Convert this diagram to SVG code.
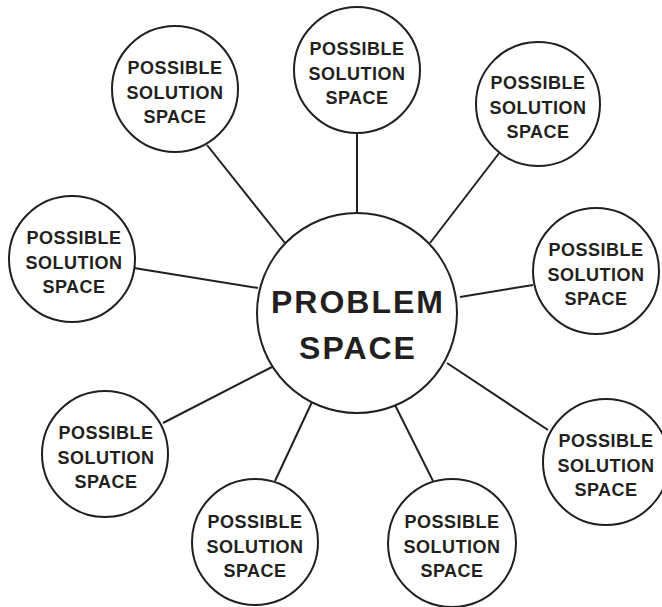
<svg xmlns="http://www.w3.org/2000/svg" width="662" height="607" viewBox="0 0 662 607">
<style>
.c{fill:#fff;stroke:#231f20;stroke-width:2}
.l{stroke:#231f20;stroke-width:2;fill:none}
.t{font-family:"Liberation Sans",Arial,sans-serif;font-weight:bold;font-size:18px;fill:#231f20;text-anchor:middle;letter-spacing:0.5px}
.m{font-family:"Liberation Sans",Arial,sans-serif;font-weight:bold;font-size:32px;fill:#231f20;text-anchor:middle;letter-spacing:2px}
</style>
<rect width="662" height="607" fill="#fff"/>
<g id="connectors">
<line class="l" x1="207" y1="145" x2="285" y2="243"/>
<line class="l" x1="357" y1="133" x2="357" y2="215"/>
<line class="l" x1="500" y1="152" x2="430" y2="243"/>
<line class="l" x1="134" y1="268" x2="258" y2="288"/>
<line class="l" x1="533" y1="285" x2="460" y2="297"/>
<line class="l" x1="163" y1="423" x2="272" y2="367"/>
<line class="l" x1="275" y1="481" x2="312" y2="402"/>
<line class="l" x1="433" y1="481" x2="395" y2="405"/>
<line class="l" x1="548" y1="430" x2="447" y2="363"/>
</g>
<g id="problem">
<circle class="c" cx="357" cy="313" r="100"/>
<text class="m" x="358" y="313">PROBLEM</text>
<text class="m" x="358" y="359">SPACE</text>
</g>
<g id="s1">
<circle class="c" cx="175" cy="89" r="63"/>
<text class="t" x="175" y="74">POSSIBLE</text>
<text class="t" x="175" y="99">SOLUTION</text>
<text class="t" x="175" y="123">SPACE</text>
</g>
<g id="s2">
<circle class="c" cx="357" cy="70" r="63"/>
<text class="t" x="357" y="55">POSSIBLE</text>
<text class="t" x="357" y="80">SOLUTION</text>
<text class="t" x="357" y="104">SPACE</text>
</g>
<g id="s3">
<circle class="c" cx="538" cy="104" r="62"/>
<text class="t" x="538" y="89">POSSIBLE</text>
<text class="t" x="538" y="114">SOLUTION</text>
<text class="t" x="538" y="138">SPACE</text>
</g>
<g id="s4">
<circle class="c" cx="72" cy="259" r="63"/>
<text class="t" x="74" y="244">POSSIBLE</text>
<text class="t" x="74" y="269">SOLUTION</text>
<text class="t" x="74" y="293">SPACE</text>
</g>
<g id="s5">
<circle class="c" cx="596" cy="271" r="63"/>
<text class="t" x="596" y="256">POSSIBLE</text>
<text class="t" x="596" y="281">SOLUTION</text>
<text class="t" x="596" y="305">SPACE</text>
</g>
<g id="s6">
<circle class="c" cx="105" cy="454" r="63"/>
<text class="t" x="106" y="439">POSSIBLE</text>
<text class="t" x="106" y="464">SOLUTION</text>
<text class="t" x="106" y="488">SPACE</text>
</g>
<g id="s7">
<circle class="c" cx="255" cy="542" r="63"/>
<text class="t" x="255" y="528">POSSIBLE</text>
<text class="t" x="255" y="553">SOLUTION</text>
<text class="t" x="255" y="577">SPACE</text>
</g>
<g id="s8">
<circle class="c" cx="452" cy="543" r="64"/>
<text class="t" x="452" y="528">POSSIBLE</text>
<text class="t" x="452" y="553">SOLUTION</text>
<text class="t" x="452" y="577">SPACE</text>
</g>
<g id="s9">
<circle class="c" cx="606" cy="462" r="63"/>
<text class="t" x="606" y="447">POSSIBLE</text>
<text class="t" x="606" y="472">SOLUTION</text>
<text class="t" x="606" y="496">SPACE</text>
</g>
</svg>
